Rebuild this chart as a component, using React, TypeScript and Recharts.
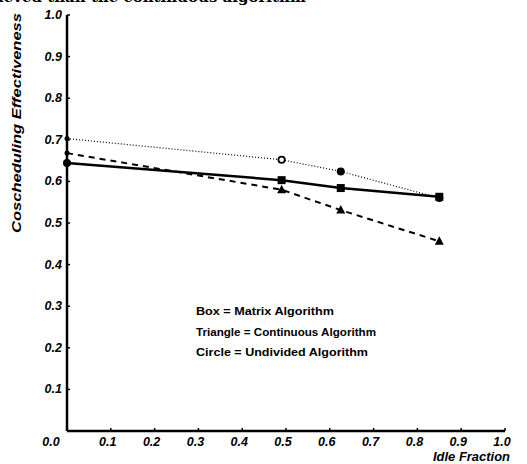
import * as React from "react";
import {Customized, Line, LineChart, XAxis, YAxis} from "recharts";

const idleFraction = [0, 0.49, 0.625, 0.85];
const matrixAlg = [0.644, 0.603, 0.584, 0.563];
const continuousAlg = [0.668, 0.58, 0.531, 0.456];
const undividedAlg = [0.703, 0.652, 0.624, 0.56];

const xTicks = [0, 0.1, 0.2, 0.3, 0.4, 0.5, 0.6, 0.7, 0.8, 0.9, 1.0];
const yTicks = [0.1, 0.2, 0.3, 0.4, 0.5, 0.6, 0.7, 0.8, 0.9, 1.0];

const legendLines = [
    "Box = Matrix Algorithm",
    "Triangle = Continuous Algorithm",
    "Circle = Undivided Algorithm",
];
const legendWidths = [138, 180, 172];

const data = idleFraction.map((x, i) => ({
    x,
    matrix: matrixAlg[i],
    continuous: continuousAlg[i],
    undivided: undividedAlg[i],
}));

const FONT = "'Liberation Sans', Arial, sans-serif";

const XTick = (props: any) => {
    const {x, y, payload} = props;
    const v = payload.value;
    const dx = v === 0 ? -16 : -3;
    return (
        <g>
            {v !== 0 && <line x1={x} y1={y} x2={x} y2={y - 3} stroke="#000" strokeWidth={1.5}/>}
            <text x={x + dx} y={y + 15} textAnchor="middle" fontFamily={FONT} fontSize={12.5}
                  fontWeight="bold" fontStyle="italic" fill="#000">{v.toFixed(1)}</text>
        </g>
    );
};

const YTick = (props: any) => {
    const {x, y, payload} = props;
    const v = payload.value;
    return (
        <g>
            <line x1={x} y1={y} x2={x + 3} y2={y} stroke="#000" strokeWidth={1.5}/>
            <text x={x - 5} y={y + 4} textAnchor="end" fontFamily={FONT} fontSize={12.5}
                  fontWeight="bold" fontStyle="italic" fill="#000">{v.toFixed(1)}</text>
        </g>
    );
};

const boxDot = (p: any) => {
    const {cx, cy, index} = p;
    if (index === 0) return <circle key={index} cx={cx} cy={cy} r={4} fill="#000"/>;
    return <rect key={index} x={cx - 4} y={cy - 4} width={8} height={8} fill="#000"/>;
};

const triDot = (p: any) => {
    const {cx, cy, index} = p;
    if (index === 0) return <circle key={index} cx={cx} cy={cy} r={2.5} fill="#000"/>;
    return <polygon key={index} points={`${cx},${cy - 5} ${cx - 4.5},${cy + 3.5} ${cx + 4.5},${cy + 3.5}`} fill="#000"/>;
};

const circDot = (p: any) => {
    const {cx, cy, index} = p;
    if (index === 0) return <circle key={index} cx={cx} cy={cy} r={2.5} fill="#000"/>;
    if (index === 1) return <circle key={index} cx={cx} cy={cy} r={3.2} fill="#fff" stroke="#000" strokeWidth={1.8}/>;
    return <circle key={index} cx={cx} cy={cy} r={4} fill="#000"/>;
};

const Annotations = () => (
    <g fontFamily={FONT} fill="#000">
        <text x={-2} y={2} fontFamily="'DejaVu Serif', serif" fontSize={15} fontWeight="bold">
            ieved than the continuous algorithm
        </text>
        <text transform="translate(21,123) rotate(-90)" textAnchor="middle" fontSize={12}
              fontWeight="bold" fontStyle="italic" textLength={220} lengthAdjust="spacingAndGlyphs">
            Coscheduling Effectiveness
        </text>
        <text x={433} y={461} fontSize={12} fontWeight="bold" fontStyle="italic"
              textLength={77} lengthAdjust="spacingAndGlyphs">Idle Fraction</text>
        {legendLines.map((t, i) => (
            <text key={t} x={196} y={315 + i * 20.5} fontSize={10} fontWeight="bold"
                  textLength={legendWidths[i]} lengthAdjust="spacingAndGlyphs">{t}</text>
        ))}
    </g>
);

export default function App() {
    return (
        <div style={{position: "absolute", left: 0, top: 0, background: "#fff"}}>
            <LineChart width={527} height={464} data={data}
                       margin={{top: 15, right: 22, bottom: 0, left: 0}}>
                <XAxis type="number" dataKey="x" domain={[0, 1]} ticks={xTicks} interval={0}
                       height={33} tickSize={0} tickMargin={0} tick={<XTick/>}
                       axisLine={{stroke: "#000", strokeWidth: 2.5}}/>
                <YAxis type="number" domain={[0, 1]} ticks={yTicks} interval={0}
                       width={67} tickSize={0} tickMargin={0} tick={<YTick/>}
                       axisLine={{stroke: "#000", strokeWidth: 2.5}}/>
                <Line dataKey="undivided" stroke="#000" strokeWidth={1.2} strokeDasharray="1 2"
                      dot={circDot} isAnimationActive={false}/>
                <Line dataKey="continuous" stroke="#000" strokeWidth={2} strokeDasharray="6 5"
                      dot={triDot} isAnimationActive={false}/>
                <Line dataKey="matrix" stroke="#000" strokeWidth={2.5}
                      dot={boxDot} isAnimationActive={false}/>
                <Customized component={Annotations}/>
            </LineChart>
        </div>
    );
}
